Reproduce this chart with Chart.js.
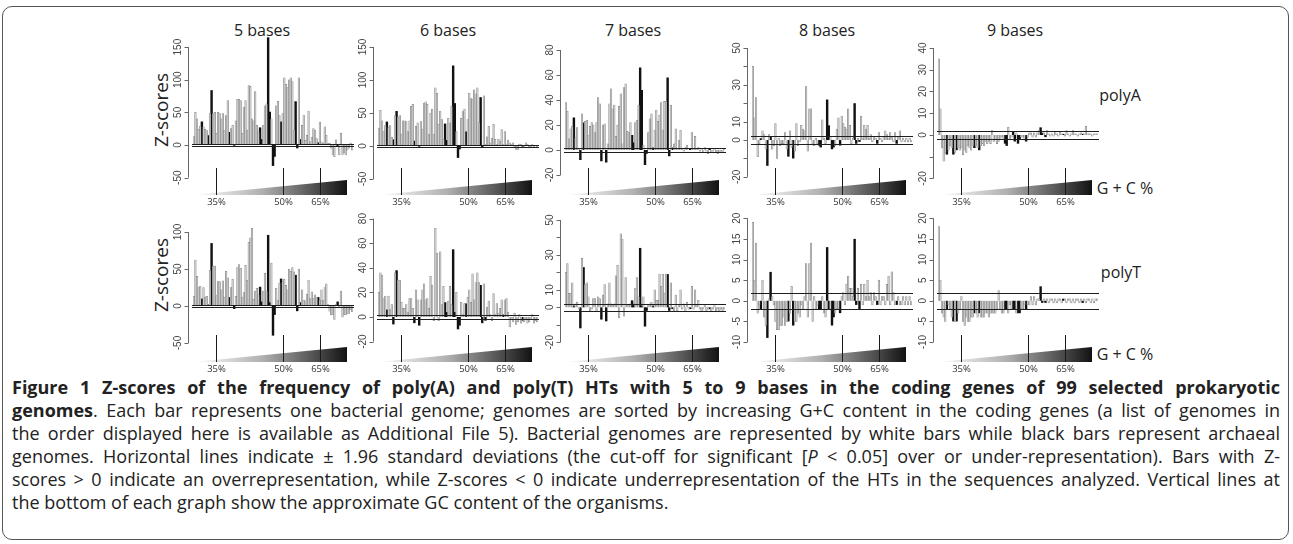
<!DOCTYPE html>
<html>
<head>
<meta charset="utf-8">
<script src="https://cdn.jsdelivr.net/npm/chart.js@4.4.0/dist/chart.umd.min.js"></script>
<style>
  html, body { margin: 0; padding: 0; background: #fff; }
  #fig { position: relative; width: 1293px; height: 544px; overflow: hidden; font-family: "Open Sans", sans-serif; color: #222; }
  #fig canvas { position: absolute; }
  #frame { position: absolute; left: 2px; top: 6px; width: 1285px; height: 532px; border: 1.5px solid #555; border-radius: 10px; }
  .lbl { position: absolute; transform: translate(-50%, -50%); white-space: nowrap; }
  .title { font-size: 16px; }
  .zs { font-size: 19px; transform: translate(-50%, -50%) rotate(-90deg); }
  .side { font-size: 16px; }
  #caption { position: absolute; left: 12px; top: 376px; width: 1268px; font-size: 18px; line-height: 23px; color: #222; }
  #caption .ln { text-align: justify; text-align-last: justify; white-space: nowrap; }
  #caption .last { text-align: left; text-align-last: left; }
</style>
</head>
<body>
<div id="fig">
  <div id="frame"></div>
  <div class="lbl title" style="left:262px;top:30px">5 bases</div>
  <div class="lbl title" style="left:448px;top:30px">6 bases</div>
  <div class="lbl title" style="left:633px;top:30px">7 bases</div>
  <div class="lbl title" style="left:827px;top:30px">8 bases</div>
  <div class="lbl title" style="left:1015px;top:30px">9 bases</div>
  <div class="lbl zs" style="left:161px;top:110px">Z-scores</div>
  <div class="lbl zs" style="left:161px;top:275px">Z-scores</div>
  <div class="lbl side" style="left:1120px;top:95px">polyA</div>
  <div class="lbl side" style="left:1121px;top:272px">polyT</div>
  <div class="lbl side" style="left:1125px;top:188px">G + C %</div>
  <div class="lbl side" style="left:1125px;top:354px">G + C %</div>
  <div id="caption">
    <div class="ln"><b>Figure 1 Z-scores of the frequency of poly(A) and poly(T) HTs with 5 to 9 bases in the coding genes of 99 selected prokaryotic</b></div>
    <div class="ln"><b>genomes</b>. Each bar represents one bacterial genome; genomes are sorted by increasing G+C content in the coding genes (a list of genomes in</div>
    <div class="ln">the order displayed here is available as Additional File 5). Bacterial genomes are represented by white bars while black bars represent archaeal</div>
    <div class="ln">genomes. Horizontal lines indicate ± 1.96 standard deviations (the cut-off for significant [<i>P</i> &lt; 0.05] over or under-representation). Bars with Z-</div>
    <div class="ln">scores &gt; 0 indicate an overrepresentation, while Z-scores &lt; 0 indicate underrepresentation of the HTs in the sequences analyzed. Vertical lines at</div>
    <div class="ln last">the bottom of each graph show the approximate GC content of the organisms.</div>
  </div>
</div>
<script>
// genomes sorted by G+C content (rank 1..99)
var genomes = Array.from({ length: 99 }, (_, i) => i + 1);
// positions (rank index) of archaeal genomes, drawn black
var archaea = [5, 9, 11, 22, 25, 41, 42, 46, 47, 49, 50, 54, 63, 64, 66, 77, 89];
// genome index where G+C reaches 35%, 50%, 65%
var gcMarks = [14, 55, 78];
var gcLabels = ['35%', '50%', '65%'];

// polyA z-scores
var polyA5 = [13,50,40,24,29,36,28,24,22,15,
  48,84,48,50,18,50,48,40,48,22,
  45,68,20,25,30,-1,37,70,70,68,
  18,58,68,23,91,90,40,37,82,30,
  20,27,9,30,60,63,165,51,40,-32,
  -18,60,67,45,36,48,103,93,88,100,
  103,97,23,67,-5,103,9,30,46,7,
  15,52,5,12,25,23,10,4,35,5,
  3,28,15,3,3,-5,-15,-18,8,-3,
  -15,18,-15,-12,-15,-8,-5,3,-8];
var polyA6 = [27,54,38,22,31,37,28,31,13,10,
  46,53,44,46,18,38,38,37,22,38,
  60,63,8,30,35,-1,37,25,65,67,
  63,18,50,56,18,88,80,33,53,40,
  10,34,9,42,35,60,122,65,22,-18,
  -5,42,52,56,22,40,80,72,71,85,
  79,88,35,74,-3,76,2,14,30,5,
  12,33,10,3,10,8,25,2,22,3,
  9,5,2,5,-2,-5,-5,3,2,-1,
  -2,5,2,-3,-1,2,-2,1,-3];
var polyA7 = [38,31,9,17,19,26,10,18,1,-8,
  29,22,23,24,12,19,22,20,14,22,
  42,37,-9,20,21,-10,5,37,49,33,
  36,11,20,35,45,5,50,53,15,14,
  22,12,6,22,24,36,66,48,4,-12,
  -3,14,25,29,2,16,32,23,28,38,
  16,39,39,58,-5,36,2,5,17,1,
  8,16,1,-1,2,4,0,1,14,1,
  11,1,2,-1,1,-2,2,-1,-3,1,
  -2,-1,1,-2,-3,-2,-1,-2,1];
var polyA8 = [40,12,23,-9,-2,1,5,3,-5,-14,
  3,2,-5,-3,9,-10,1,-3,-2,-2,
  4,-5,-9,5,-4,-10,-6,9,-3,-1,
  8,6,5,29,-6,17,17,-2,-3,1,
  -2,-3,-4,11,1,-2,22,8,2,-5,
  -4,-3,6,12,-3,13,9,7,6,17,
  8,-2,1,20,-2,1,-1,13,1,8,
  6,8,1,3,-1,2,1,-2,4,1,
  -1,2,5,3,1,4,2,-1,4,-2,
  2,5,-1,1,-1,1,-1,1,-1];
var polyA9 = [35,12,-6,-12,-8,-9,-7,-5,-6,-9,
  -8,-7,-6,-7,-6,-9,-7,-8,-5,-6,
  -7,-5,-6,-5,-6,-7,-5,-4,-5,-3,
  -4,-3,-4,2,-3,-2,-4,-3,-2,-1,
  -2,-4,-5,3.5,-2,-1,1.5,-3,1,-4,
  -2,-1,-1,-2,-3,-1,1,1,-1,1,
  -1,1,2,3.5,1,1,-1,2,0.5,-0.5,
  0.5,-0.5,1.5,0.5,-0.5,1.5,0.5,0.5,-0.5,2,
  0.5,-0.5,0.5,2,0.5,0.5,-0.5,0.5,1,0.5,
  0.5,4,0.5,0.5,0.5,-0.5,0.5,0.5,0.5];

// polyT z-scores
var polyT5 = [13,62,40,25,27,10,25,12,13,2,
  48,85,54,54,14,33,33,22,34,12,
  47,38,12,25,36,-4,13,52,56,51,
  12,18,55,35,86,92,105,9,20,24,
  15,26,6,20,44,20,96,5,58,-40,
  -12,24,8,31,37,33,36,28,22,50,
  47,52,46,42,-7,50,5,22,8,7,
  16,35,10,19,10,15,12,12,8,22,
  8,25,30,2,-7,-12,-12,-18,2,6,
  -2,20,-15,-12,-12,-10,-10,-5,-8];
var polyT6 = [20,36,34,15,17,6,17,6,10,-6,
  36,38,30,30,12,7,7,10,4,15,
  15,7,-5,22,14,-7,14,22,27,14,
  15,7,33,26,-3,72,52,-3,53,10,
  25,12,4,13,25,10,55,4,20,-10,
  -7,12,2,11,11,16,22,12,35,14,
  28,36,28,26,-5,27,-3,8,13,2,
  -3,19,2,11,3,7,14,2,14,15,
  4,-8,-2,-4,3,-6,-4,2,-5,-3,
  -4,-2,-5,-4,-2,2,-5,-3,-4];
var polyT7 = [20,25,8,8,14,1,2,3,-1,-12,
  28,23,13,14,6,-2,-1,5,5,-2,
  6,5,-7,7,13,-8,2,14,2,1,
  2,18,24,-6,42,39,-5,17,1,1,
  2,4,2,11,17,6,34,1,6,-11,
  -2,1,2,3,1,10,4,4,19,12,
  19,8,19,19,-2,14,-1,-2,7,-2,
  1,10,-1,2,-2,3,-1,-1,12,-1,
  10,1,4,-1,-2,-1,1,-2,-1,-1,
  -2,-1,1,-2,-1,-2,-1,-2,-1];
var polyT8 = [19,5,14,-3,-1,-2,5,-4,-6,-9,
  0.5,7,1,-1,-5,-7,-7,-6,-6,-4,
  -6,-5,-5,-3,3.5,-6,-5,-5,-3,-4,
  -1,-2,1,9,-4,9,14,-5,1,-2,
  -1,-2,-2,1,-3,-4,13,-2,-2,-6,
  -4,-3,-2,-2,-3,1,2,-1,4,6,
  3,3,1,15,-1,3,-2,4,-1,4,
  1,5,1,2,-1,2,1,-1,5,-1,
  1,1,-1,4,6,-1,7,2,-1,-1,
  1,-1,-1,1,-1,1,-1,1,-1];
var polyT9 = [18,5,-3,-4,-5,-2,-1,-2,-4,-5,
  -5,-5,-3,-2,1,-5,-6,-4,-5,-5,
  -4,-4,-3,-3,-4,-3,-4,-4,-4,-3,
  -3,-4,-3,-3,-3,-3,-2,2.5,-2,-3,
  -3,-2,-2,-3,-1,-2,-2,-2,-3,-3,
  -3,-2,-2,-1,-2,-1,-1,1,-1,1,
  -1,0.5,0.5,3.5,-0.5,0.5,-0.5,0.5,-0.5,0.5,
  0.5,-0.5,0.5,-0.5,0.5,0.5,-0.5,0.5,0.5,-0.5,
  0.5,0.5,-0.5,0.5,-0.5,0.5,0.5,-0.5,0.5,-0.5,
  0.5,-0.5,0.5,0.5,-0.5,0.5,-0.5,0.5,0.5];

// y axis ticks and the labels R kept
var ticks150 = [-50, 0, 50, 100, 150];
var ticks100 = [-50, 0, 50, 100];
var ticks80 = [-20, 0, 20, 40, 60, 80];
var ticks50 = [-20, -10, 0, 10, 20, 30, 40, 50];
var labels50 = [-20, 0, 10, 30, 50];
var ticks40 = [-20, -10, 0, 10, 20, 30, 40];
var labels40 = [-20, 0, 10, 20, 30, 40];
var ticks20 = [-10, -5, 0, 5, 10, 15, 20];

var panelDecor = {
    id: 'panelDecor',
    afterDatasetsDraw: function (chart, args, opts) {
        var ctx = chart.ctx, a = chart.chartArea;
        var xs = chart.scales.x, ys = chart.scales.y;
        ctx.save();
        // +/- 1.96 lines
        ctx.strokeStyle = '#1e1e1e';
        ctx.lineWidth = 1;
        [1.96, -1.96].forEach(function (v) {
            var py = Math.round(ys.getPixelForValue(v)) + 0.5;
            ctx.beginPath();
            ctx.moveTo(a.left - 1, py);
            ctx.lineTo(a.right + 1, py);
            ctx.stroke();
        });
        // R style y axis
        var ax = Math.round(a.left - 5) + 0.5;
        ctx.strokeStyle = '#666';
        ctx.beginPath();
        ctx.moveTo(ax, ys.getPixelForValue(opts.ticks[0]));
        ctx.lineTo(ax, ys.getPixelForValue(opts.ticks[opts.ticks.length - 1]));
        ctx.stroke();
        opts.ticks.forEach(function (t) {
            var py = Math.round(ys.getPixelForValue(t)) + 0.5;
            ctx.beginPath();
            ctx.moveTo(ax, py);
            ctx.lineTo(ax - 4, py);
            ctx.stroke();
        });
        ctx.fillStyle = '#444';
        ctx.font = '10px "Liberation Sans", Arial, sans-serif';
        ctx.textAlign = 'center';
        ctx.textBaseline = 'bottom';
        opts.labels.forEach(function (t) {
            ctx.save();
            ctx.translate(ax - 5, ys.getPixelForValue(t));
            ctx.rotate(-Math.PI / 2);
            ctx.fillText(String(t), 0, 0);
            ctx.restore();
        });
        // G+C wedge
        var tt = a.bottom, tb = a.bottom + 15, tr = a.right - 6;
        var g = ctx.createLinearGradient(a.left, 0, tr, 0);
        g.addColorStop(0, '#ffffff');
        g.addColorStop(0.45, '#b0b0b0');
        g.addColorStop(0.8, '#4e4e4e');
        g.addColorStop(1, '#121212');
        ctx.fillStyle = g;
        ctx.beginPath();
        ctx.moveTo(a.left, tb);
        ctx.lineTo(tr, tt);
        ctx.lineTo(tr, tb);
        ctx.closePath();
        ctx.fill();
        ctx.strokeStyle = '#1a1a1a';
        ctx.fillStyle = '#333';
        ctx.font = '9.5px "Open Sans", sans-serif';
        ctx.textBaseline = 'middle';
        gcMarks.forEach(function (m, i) {
            var px = Math.round(xs.getPixelForValue(m)) + 0.5;
            ctx.beginPath();
            ctx.moveTo(px, a.bottom - 12);
            ctx.lineTo(px, tb);
            ctx.stroke();
            ctx.fillText(gcLabels[i], px, tb + 7);
        });
        ctx.restore();
    }
};

var isArch = genomes.map((_, i) => archaea.indexOf(i) >= 0);

var panels = [
    { values: polyA5, ticks: ticks150, labels: ticks150, min: -53.6, max: 167, left: 193, row: 0 },
    { values: polyA6, ticks: ticks150, labels: ticks150, min: -51.5, max: 166.7, left: 378, row: 0 },
    { values: polyA7, ticks: ticks80, labels: ticks80, min: -24, max: 91.2, left: 565, row: 0 },
    { values: polyA8, ticks: ticks50, labels: labels50, min: -21.7, max: 56.5, left: 752, row: 0 },
    { values: polyA9, ticks: ticks40, labels: labels40, min: -20.7, max: 45.5, left: 938, row: 0 },
    { values: polyT5, ticks: ticks100, labels: ticks100, min: -55.4, max: 129.7, left: 193, row: 1 },
    { values: polyT6, ticks: ticks80, labels: ticks80, min: -24.4, max: 87, left: 378, row: 1 },
    { values: polyT7, ticks: ticks50, labels: labels50, min: -22.7, max: 55.7, left: 565, row: 1 },
    { values: polyT8, ticks: ticks20, labels: ticks20, min: -11.2, max: 22, left: 752, row: 1 },
    { values: polyT9, ticks: ticks20, labels: ticks20, min: -11.2, max: 22, left: 938, row: 1 }
];

var fig = document.getElementById('fig');
panels.forEach(function (p) {
    var cv = document.createElement('canvas');
    cv.width = 190;
    cv.height = 190;
    cv.style.left = (p.left - 26) + 'px';
    cv.style.top = (p.row ? 186 : 20) + 'px';
    fig.appendChild(cv);
    new Chart(cv.getContext('2d'), {
        type: 'bar',
        data: {
            labels: genomes,
            datasets: [{
                // bacteria (white bars)
                data: p.values.map((v, i) => isArch[i] ? null : v),
                backgroundColor: '#cbcbcb',
                borderColor: '#7a7a7a',
                borderWidth: 0.5,
                barPercentage: 1,
                categoryPercentage: 1,
                grouped: false
            }, {
                // archaea (black bars)
                data: p.values.map((v, i) => isArch[i] ? v : null),
                backgroundColor: '#111',
                borderWidth: 0,
                barPercentage: 1.5,
                categoryPercentage: 1,
                grouped: false
            }]
        },
        options: {
            responsive: false,
            animation: false,
            devicePixelRatio: 1,
            events: [],
            layout: { padding: { left: 26, right: 4, top: p.row ? 24 : 16, bottom: p.row ? 29 : 30 } },
            plugins: {
                legend: { display: false },
                tooltip: { enabled: false },
                panelDecor: { ticks: p.ticks, labels: p.labels }
            },
            scales: {
                x: { display: false },
                y: { display: false, min: p.min, max: p.max }
            }
        },
        plugins: [panelDecor]
    });
});
</script>
</body>
</html>
